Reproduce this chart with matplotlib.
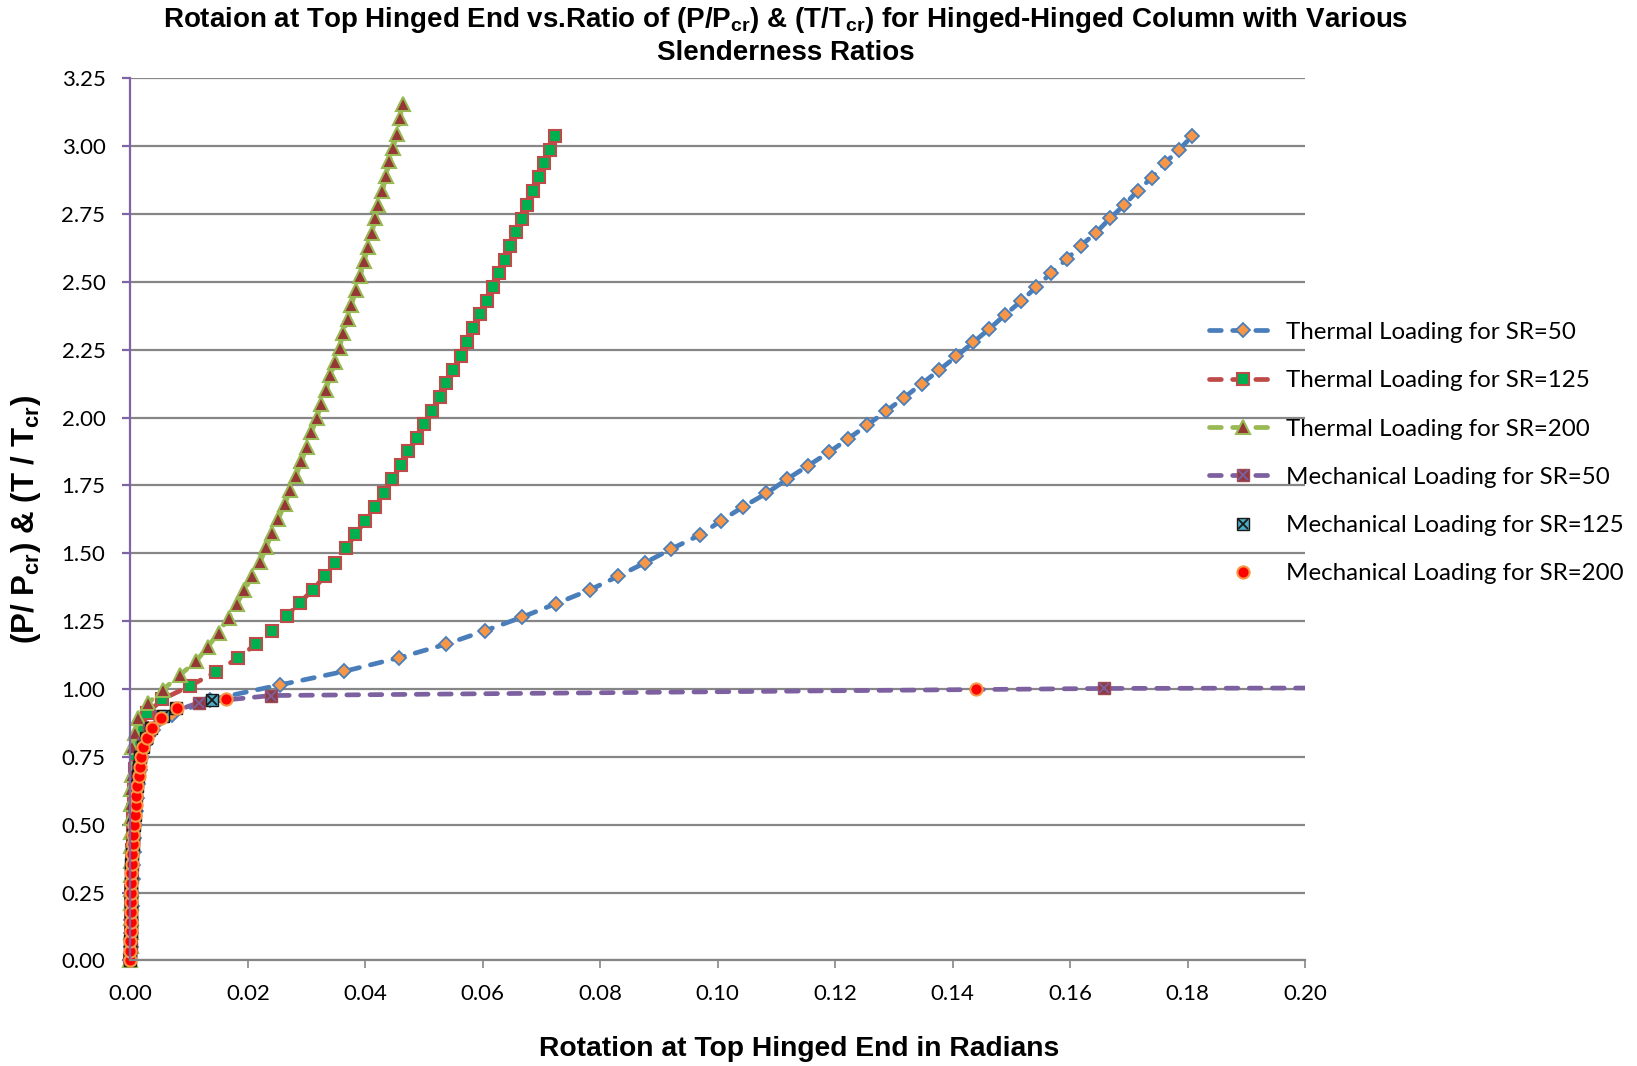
import matplotlib
matplotlib.use("Agg")
import matplotlib.pyplot as plt
from matplotlib.legend_handler import HandlerTuple

plt.rcParams['mathtext.fontset'] = 'custom'
plt.rcParams['mathtext.rm'] = 'Liberation Sans'
plt.rcParams['mathtext.bf'] = 'Liberation Sans:bold'

# Thermal loading, SR=50
th50_x = [0.0000, 0.00005, 0.0001, 0.00015, 0.0002, 0.00028, 0.00035, 0.00045, 0.00055, 0.00065,
          0.0008, 0.00095, 0.0011, 0.0013, 0.0016, 0.0020, 0.0026, 0.0038, 0.0071, 0.0135,
          0.0254, 0.0364, 0.0457, 0.0537, 0.0604, 0.0667, 0.0725, 0.0782, 0.0830, 0.0876,
          0.0920, 0.0970, 0.1005, 0.1043, 0.1083, 0.1118, 0.1154, 0.1190, 0.1222, 0.1255,
          0.1286, 0.1317, 0.1347, 0.1377, 0.1406, 0.1435, 0.1462, 0.1489, 0.1516, 0.1542,
          0.1567, 0.1594, 0.1618, 0.1644, 0.1668, 0.1692, 0.1715, 0.1739, 0.1761, 0.1785, 0.1808]
th50_y = [0.00, 0.05, 0.10, 0.15, 0.20, 0.25, 0.30, 0.35, 0.40, 0.45,
          0.50, 0.55, 0.60, 0.65, 0.70, 0.75, 0.80, 0.85, 0.905, 0.96,
          1.015, 1.065, 1.115, 1.165, 1.215, 1.265, 1.315, 1.365, 1.415, 1.465,
          1.515, 1.568, 1.619, 1.671, 1.721, 1.773, 1.823, 1.873, 1.922, 1.973,
          2.023, 2.073, 2.124, 2.175, 2.225, 2.277, 2.326, 2.378, 2.428, 2.480,
          2.531, 2.583, 2.633, 2.681, 2.734, 2.783, 2.835, 2.884, 2.937, 2.986, 3.037]

# Thermal loading, SR=125
th125_x = [0.0000, 0.00003, 0.00006, 0.0001, 0.00013, 0.00017, 0.0002, 0.00025, 0.0003, 0.00035,
           0.0004, 0.00047, 0.00055, 0.00065, 0.0008, 0.00095, 0.0011, 0.0019, 0.0029, 0.0054,
           0.0101, 0.0146, 0.0183, 0.0214, 0.0241, 0.0266, 0.0288, 0.0311, 0.0331, 0.0349,
           0.0367, 0.0383, 0.0400, 0.0416, 0.0431, 0.0446, 0.0460, 0.0473, 0.0488, 0.0500,
           0.0513, 0.0527, 0.0538, 0.0550, 0.0562, 0.0573, 0.0584, 0.0595, 0.0607, 0.0617,
           0.0627, 0.0638, 0.0647, 0.0657, 0.0666, 0.0676, 0.0686, 0.0695, 0.0705, 0.0714, 0.0723]
th125_y = [0.000, 0.056, 0.106, 0.156, 0.206, 0.256, 0.306, 0.356, 0.406, 0.456,
           0.506, 0.556, 0.606, 0.656, 0.706, 0.756, 0.806, 0.856, 0.911, 0.962,
           1.011, 1.064, 1.114, 1.166, 1.215, 1.268, 1.318, 1.366, 1.417, 1.466,
           1.518, 1.570, 1.620, 1.670, 1.722, 1.772, 1.824, 1.875, 1.924, 1.976,
           2.025, 2.075, 2.126, 2.176, 2.228, 2.278, 2.329, 2.380, 2.430, 2.482,
           2.532, 2.582, 2.632, 2.683, 2.733, 2.783, 2.834, 2.886, 2.937, 2.987, 3.037]

# Thermal loading, SR=200
th200_x = [0.0000, 0.00001, 0.00002, 0.00003, 0.00004, 0.00005, 0.00006, 0.00007, 0.00008, 0.0001,
           0.00012, 0.00014, 0.00017, 0.0002, 0.00028, 0.00073, 0.0013, 0.0030, 0.0055, 0.0085,
           0.0112, 0.0132, 0.0150, 0.0167, 0.0181, 0.0194, 0.0207, 0.0221, 0.0231, 0.0241,
           0.0252, 0.0263, 0.0272, 0.0282, 0.0291, 0.0300, 0.0308, 0.0317, 0.0325, 0.0333,
           0.0340, 0.0349, 0.0356, 0.0362, 0.0370, 0.0376, 0.0384, 0.0391, 0.0398, 0.0404,
           0.0411, 0.0417, 0.0422, 0.0429, 0.0435, 0.0441, 0.0447, 0.0454, 0.0459, 0.0464]
th200_y = [0.000, 0.053, 0.105, 0.158, 0.210, 0.263, 0.315, 0.368, 0.420, 0.473,
           0.525, 0.578, 0.630, 0.683, 0.788, 0.837, 0.892, 0.948, 0.997, 1.053,
           1.103, 1.156, 1.208, 1.262, 1.314, 1.363, 1.417, 1.469, 1.522, 1.575,
           1.628, 1.683, 1.734, 1.786, 1.839, 1.891, 1.945, 1.997, 2.049, 2.100,
           2.155, 2.206, 2.258, 2.311, 2.363, 2.415, 2.469, 2.521, 2.575, 2.627,
           2.680, 2.734, 2.783, 2.835, 2.889, 2.944, 2.993, 3.046, 3.103, 3.156]

# Mechanical loading, SR=50
me50_x = [0.0000, 0.00002, 0.00004, 0.00006, 0.00009, 0.00012, 0.00016, 0.0002, 0.00027, 0.00035,
          0.00045, 0.00058, 0.00074, 0.00095, 0.0012, 0.0016, 0.0022, 0.0031, 0.0051, 0.0117,
          0.0240, 0.1658, 0.2500]
me50_y = [0.00, 0.05, 0.10, 0.15, 0.20, 0.25, 0.30, 0.35, 0.40, 0.45,
          0.50, 0.55, 0.60, 0.65, 0.70, 0.75, 0.80, 0.85, 0.90, 0.950,
          0.976, 1.002, 1.006]

# Mechanical loading, SR=125
me125_x = [0.0000, 0.0000, 0.0000, 0.00002, 0.00002, 0.00004, 0.00007, 0.00009, 0.0001, 0.00012,
           0.00016, 0.00019, 0.00035, 0.00046, 0.0006, 0.00072, 0.00083, 0.00094, 0.0011, 0.0013,
           0.0015, 0.0017, 0.0021, 0.0027, 0.0035, 0.0055, 0.0078, 0.0138]
me125_y = [0.000, 0.036, 0.071, 0.107, 0.143, 0.179, 0.214, 0.250, 0.286, 0.321,
           0.357, 0.393, 0.429, 0.464, 0.500, 0.536, 0.571, 0.607, 0.643, 0.679,
           0.714, 0.750, 0.786, 0.821, 0.857, 0.900, 0.929, 0.958]

# Mechanical loading, SR=200
me200_x = [0.0000, 0.0000, 0.0000, 0.00002, 0.00002, 0.00005, 0.00008, 0.0001, 0.0001, 0.00013,
           0.00018, 0.0002, 0.0004, 0.00051, 0.00068, 0.0008, 0.00091, 0.00102, 0.00119, 0.00141,
           0.00158, 0.00187, 0.00221, 0.00289, 0.00368, 0.00516, 0.0080, 0.0163, 0.1439]
me200_y = [0.000, 0.036, 0.071, 0.107, 0.143, 0.179, 0.214, 0.250, 0.286, 0.321,
           0.357, 0.393, 0.429, 0.464, 0.500, 0.536, 0.571, 0.607, 0.643, 0.679,
           0.714, 0.750, 0.786, 0.821, 0.857, 0.893, 0.929, 0.964, 0.999]

x_ticks = [0.00, 0.02, 0.04, 0.06, 0.08, 0.10, 0.12, 0.14, 0.16, 0.18, 0.20]
y_ticks = [0.00, 0.25, 0.50, 0.75, 1.00, 1.25, 1.50, 1.75, 2.00, 2.25, 2.50, 2.75, 3.00, 3.25]

fig = plt.figure(figsize=(16.37, 10.66), dpi=100)
ax = fig.add_axes([0.0797, 0.099, 0.7175, 0.8276])

dash = dict(linestyle=(0, (2.5, 2.4)), linewidth=3.4, dash_capstyle='round')

# markers sitting on x=0 should show whole, not cut by the axes edge
l1, = ax.plot(th50_x, th50_y, color='#4A7EBB', marker='D', ms=7.5, mfc='#F79646',
              mec='#4A7EBB', mew=1.3, clip_on=False, **dash)
l2, = ax.plot(th125_x, th125_y, color='#BE4B48', marker='s', ms=9, mfc='#00B050',
              mec='#BE4B48', mew=1.5, clip_on=False, **dash)
l3, = ax.plot(th200_x, th200_y, color='#98B954', marker='^', ms=9.5, mfc='#953735',
              mec='#98B954', mew=1.5, clip_on=False, **dash)
l4, = ax.plot(me50_x, me50_y, color='#7D60A0', marker='s', ms=8, mfc='#8E3B46',
              mec='#A04A55', mew=1.0, **dash)
l4x, = ax.plot(me50_x, me50_y, linestyle='none', marker='x', ms=7, mec='#7D60A0', mew=1.3)
l5, = ax.plot(me125_x, me125_y, linestyle='none', marker='s', ms=8, mfc='#4BACC6',
              mec='#1A1A1A', mew=1.0, clip_on=False)
l5x, = ax.plot(me125_x, me125_y, linestyle='none', marker='x', ms=7, mec='#1A1A1A', mew=1.3,
               clip_on=False)
l6, = ax.plot(me200_x, me200_y, linestyle='none', marker='o', ms=8.8, mfc='#FF0000',
              mec='#F79646', mew=1.5, clip_on=False)

ax.set_xlim(0, 0.20)
ax.set_ylim(0, 3.25)
ax.set_xticks(x_ticks)
ax.set_yticks(y_ticks)
ax.set_xticklabels([f"{v:.2f}" for v in x_ticks])
ax.set_yticklabels([f"{v:.2f}" for v in y_ticks])

ax.yaxis.grid(True, color='#868686', linewidth=1.6)
ax.set_axisbelow(True)
for s in ['top', 'right']:
    ax.spines[s].set_visible(False)
ax.spines['left'].set_color('#7F63A8')
ax.spines['left'].set_linewidth(1.6)
ax.spines['bottom'].set_color('#868686')
ax.spines['bottom'].set_linewidth(1.6)
ax.tick_params(axis='y', direction='out', length=6, width=1.6, color='#7F63A8', pad=12,
               labelsize=16)
ax.tick_params(axis='x', direction='out', length=6, width=1.2, color='#868686', pad=11,
               labelsize=16)
for lab in ax.get_xticklabels() + ax.get_yticklabels():
    lab.set_fontfamily('Lato')

fig.text(0.48, 0.981,
         r"Rotaion at Top Hinged End vs.Ratio of (P/P$_{\mathbf{cr}}$) & (T/T$_{\mathbf{cr}}$) "
         r"for Hinged-Hinged Column with Various",
         ha='center', va='center', fontsize=20, fontweight='bold', family='Liberation Sans')
fig.text(0.48, 0.950, "Slenderness Ratios", ha='center', va='center', fontsize=20,
         fontweight='bold', family='Liberation Sans')
fig.text(0.488, 0.016, "Rotation at Top Hinged End in Radians", ha='center', va='center',
         fontsize=20.3, fontweight='bold', family='Liberation Sans')
fig.text(0.016, 0.513, r"(P/ P$_{\mathbf{cr}}$) & (T / T$_{\mathbf{cr}}$)", ha='center',
         va='center', rotation=90, fontsize=22.5, fontweight='bold', family='Liberation Sans')

handles = [l1, l2, l3, (l4, l4x), (l5, l5x), l6]
labels = ["Thermal Loading for SR=50", "Thermal Loading for SR=125",
          "Thermal Loading for SR=200", "Mechanical Loading for SR=50",
          "Mechanical Loading for SR=125", "Mechanical Loading for SR=200"]
fig.legend(handles, labels, loc='upper left', bbox_to_anchor=(0.7386, 0.698),
           frameon=False, borderpad=0, borderaxespad=0, handlelength=2.77,
           handletextpad=0.43, labelspacing=1.13, numpoints=1,
           handler_map={tuple: HandlerTuple(ndivide=1)},
           prop={'family': 'Lato', 'size': 17.4})

fig.savefig("out.png", dpi=100)
